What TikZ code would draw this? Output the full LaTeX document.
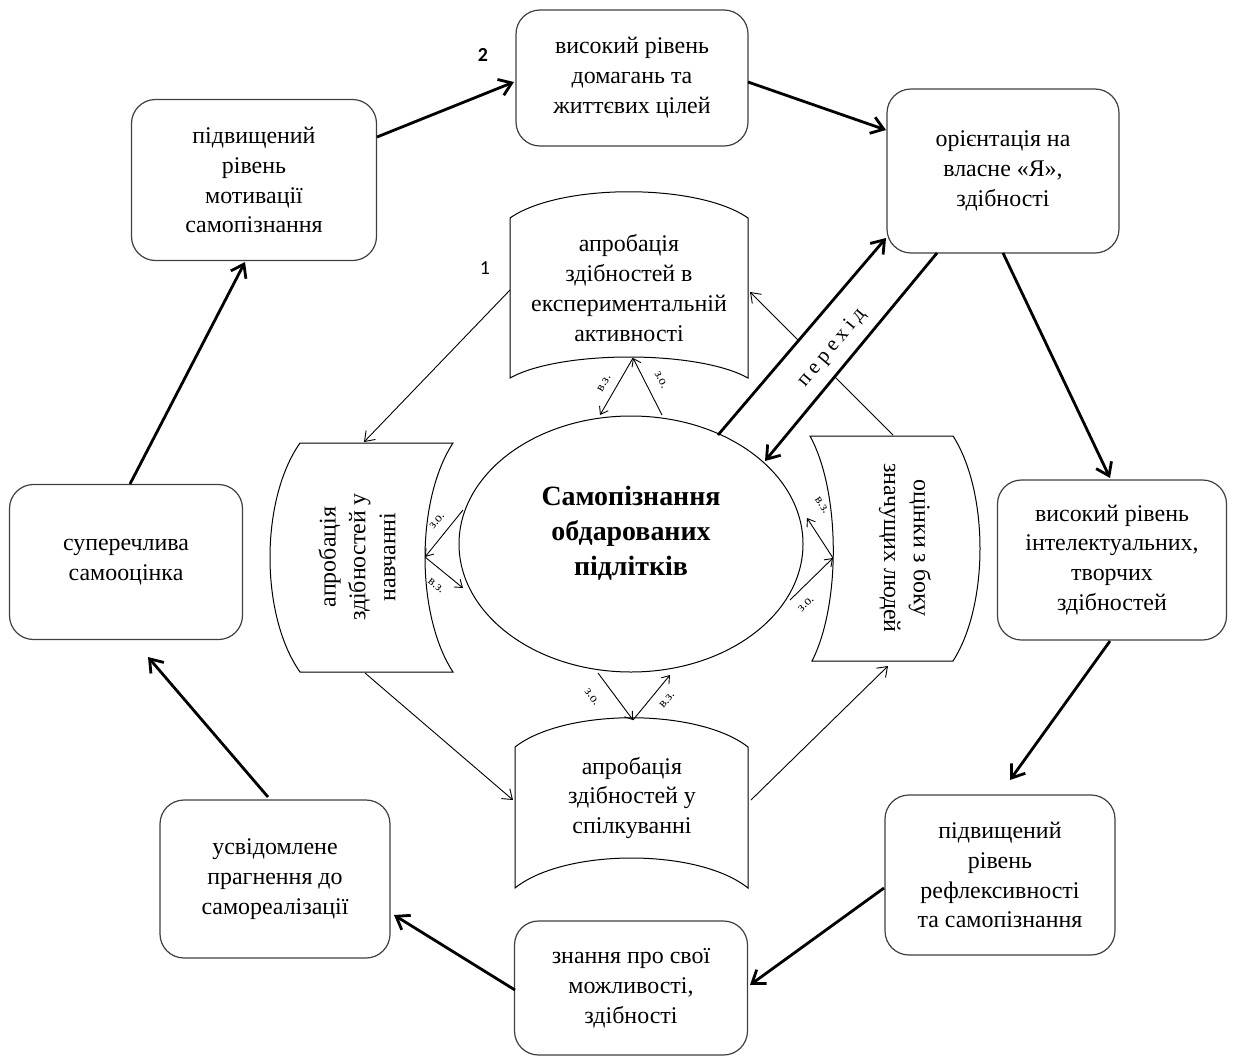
\documentclass[tikz,border=0pt]{standalone}
\usepackage{fontspec}
\setmainfont{Liberation Serif}
\newfontfamily\numfont{Carlito}
\newfontfamily\spacedfont[LetterSpace=22]{Liberation Serif}
\usetikzlibrary{arrows.meta,shapes.geometric}
\begin{document}
\begin{tikzpicture}[x=1bp,y=-1bp,
  box/.style n args={2}{draw=black!75, line width=1.2bp, rounded corners=24bp, minimum width=#1bp, minimum height=#2bp, align=center, inner sep=0pt, font=\fontsize{24}{30}\selectfont, fill=white},
  btext/.style={align=center, font=\fontsize{24}{30}\selectfont, inner sep=0pt},
  banner/.style={draw=black, line width=1bp, fill=white},
  thinarr/.style={draw=black, line width=0.9bp, -{Straight Barb[length=9bp,width=13bp]}},
  thickarr/.style={draw=black, line width=2.8bp, -{Straight Barb[length=12bp,width=17bp]}},
  smallarr/.style={draw=black, line width=0.9bp, -{Straight Barb[length=7bp,width=10bp]}},
  lab/.style={font=\fontsize{13}{13}\selectfont, inner sep=0pt},
]
\useasboundingbox (0,0) rectangle (1233,1058);

% connector end points
\coordinate (tL1) at (510,290); \coordinate (tL2) at (364,442);
\coordinate (tB1) at (365,673); \coordinate (tB2) at (513,800);
\coordinate (tR1) at (751,800); \coordinate (tR2) at (888,666);
\coordinate (tT1) at (893,435); \coordinate (tT2) at (750,292);

\coordinate (P1) at (718,435); \coordinate (P2) at (886,238);
\coordinate (P3) at (937,253); \coordinate (P4) at (765,461);

% thin line passing under the band
\draw[thinarr] (tT1) -- (tT2);
\fill[white] (P1) -- (P2) -- (P3) -- (P4) -- cycle;

% banners
\draw[banner] (510,218) .. controls (560,183) and (698,183) .. (748,218) -- (748,378) .. controls (698,350) and (560,350) .. (510,378) -- cycle;
\draw[banner] (300,443) -- (453,443) .. controls (415.7,500) and (415.7,615) .. (453,672) -- (300,672) .. controls (260,615) and (260,500) .. (300,443) -- cycle;
\draw[banner] (810,436) -- (953,436) .. controls (989,492) and (989,605) .. (953,661) -- (812,661) .. controls (840.7,605) and (840.7,492) .. (810,436) -- cycle;
\draw[banner] (515,747) .. controls (565,708) and (698,708) .. (748,747) -- (748,888) .. controls (698,848) and (565,848) .. (515,888) -- cycle;

\node[btext] (T) at (629,288) {апробація\\здібностей в\\експериментальній\\активності};
\node[btext, rotate=90] (L) at (357,557) {апробація\\здібностей у\\навчанні};
\node[btext, rotate=-90] (R) at (905,548) {оцінки з боку\\значущих людей};
\node[btext] (Bt) at (632,798) {апробація\\здібностей у\\спілкуванні};

% centre
\node[ellipse, draw, line width=1bp, minimum width=344bp, minimum height=256bp, inner sep=0pt] (E) at (631,544) {};
\node[align=center, font=\fontsize{28}{35}\bfseries\selectfont] (Et) at (631,533) {Самопізнання\\обдарованих\\підлітків};

% outer boxes
\node[box={232}{136}] (B1) at (632,78) {високий рівень\\домагань та\\життєвих цілей};
\node[box={232}{164}] (B2) at (1003,171) {орієнтація на\\власне «Я»,\\здібності};
\node[box={229}{160}] (B3) at (1112,560) {високий рівень\\інтелектуальних,\\творчих\\здібностей};
\node[box={230}{160}] (B4) at (1000,875) {підвищений\\рівень\\рефлексивності\\та самопізнання};
\node[box={233}{134}] (B5) at (631,988) {знання про свої\\можливості,\\здібності};
\node[box={230}{158}] (B6) at (275,879) {усвідомлене\\прагнення до\\самореалізації};
\node[box={233}{155}] (B7) at (126,562) {суперечлива\\самооцінка};
\node[box={245}{161}] (B8) at (254,180) {підвищений\\рівень\\мотивації\\самопізнання};

% thick cycle arrows
\draw[thickarr] (377,137) -- (514,82);
\draw[thickarr] (748,82) -- (886,130);
\draw[thickarr] (1003,253) -- (1110,478);
\draw[thickarr] (1110,641) -- (1010,780);
\draw[thickarr] (884,888) -- (750,985);
\draw[thickarr] (515,990) -- (394,915);
\draw[thickarr] (268,797) -- (148,657);
\draw[thickarr] (130,484) -- (245,262);

% transition arrows
\draw[thickarr] (P1) -- (P2);
\draw[thickarr] (P3) -- (P4);
\node[rotate=50, font=\spacedfont\fontsize{21}{21}\selectfont, inner sep=0pt] (lab) at (832,348) {перехід};

% thin arrows between banners
\draw[thinarr] (tL1) -- (tL2);
\draw[thinarr] (tB1) -- (tB2);
\draw[thinarr] (tR1) -- (tR2);

% small arrows
\coordinate (aT) at (633,358); \coordinate (aL) at (425,557);
\coordinate (aR) at (833,558); \coordinate (aB) at (633,720);
\draw[smallarr] (662,415) -- (aT);
\draw[smallarr] (aT) -- (600,415);
\draw[smallarr] (463,510) -- (aL);
\draw[smallarr] (aL) -- (463,588);
\draw[smallarr] (aR) -- (807,518);
\draw[smallarr] (790,600) -- (aR);
\draw[smallarr] (598,673) -- (aB);
\draw[smallarr] (aB) -- (670,675);

\node[lab, rotate=60] at (604,383) {в.з.};
\node[lab, rotate=-63] at (661,380) {з.о.};
\node[lab, rotate=51] at (437,521) {з.о.};
\node[lab, rotate=-39] at (436,586) {в.з.};
\node[lab, rotate=-57] at (822,505) {в.з.};
\node[lab, rotate=44] at (806,604) {з.о.};
\node[lab, rotate=-53] at (592,697) {з.о.};
\node[lab, rotate=50] at (667,700) {в.з.};

\node[font=\numfont\bfseries\fontsize{20}{20}\selectfont] (n2) at (483,55) {2};
\node[font=\numfont\fontsize{20}{20}\selectfont] (n1) at (485,268) {1};
\end{tikzpicture}
\end{document}
